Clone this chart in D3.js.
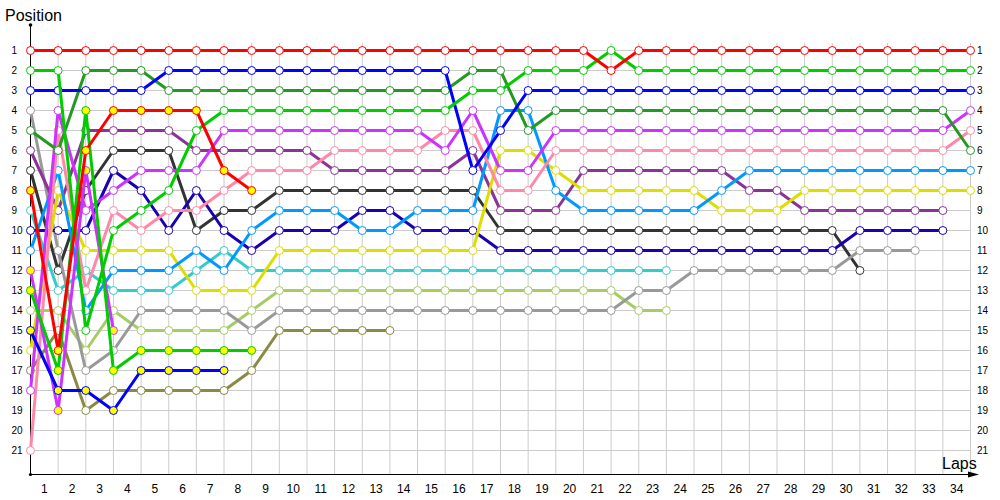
<!DOCTYPE html>
<html><head><meta charset="utf-8">
<script src="https://cdn.jsdelivr.net/npm/d3@7"></script>
<style>body{margin:0;background:#fff}svg{display:block}</style>
</head><body><svg id="c" width="1000" height="500"></svg>
<script>
// tick labels
const lapLabels = ["1","2","3","4","5","6","7","8","9","10","11","12","13","14","15","16","17","18","19","20","21","22","23","24","25","26","27","28","29","30","31","32","33","34"];
const positionLabels = ["1","2","3","4","5","6","7","8","9","10","11","12","13","14","15","16","17","18","19","20","21"];

// positions per lap (index 0 = start grid)
const red      = [1,1,1,1,1,1,1,1,1,1, 1,1,1,1,1,1,1,1,1,1, 1,2,1,1,1,1,1,1,1,1, 1,1,1,1,1];
const green    = [2,2,15,10,9,8,5,4,4,4, 4,4,4,4,4,4,3,3,2,2, 2,1,2,2,2,2,2,2,2,2, 2,2,2,2,2];
const blue     = [3,3,3,3,3,2,2,2,2,2, 2,2,2,2,2,2,7,5,3,3, 3,3,3,3,3,3,3,3,3,3, 3,3,3,3,3];
const dkgreen  = [5,6,2,2,2,3,3,3,3,3, 3,3,3,3,3,3,2,2,5,4, 4,4,4,4,4,4,4,4,4,4, 4,4,4,4,6];
const magenta  = [18,4,9,8,7,7,7,5,5,5, 5,5,5,5,5,6,4,7,7,5, 5,5,5,5,5,5,5,5,5,5, 5,5,5,5,4];
const pink     = [21,5,13,9,10,9,9,8,7,7, 7,6,6,6,6,5,5,8,8,6, 6,6,6,6,6,6,6,6,6,6, 6,6,6,6,5];
const ltblue   = [11,7,14,12,12,12,11,12,10,9, 9,9,10,10,9,9,9,4,4,8, 9,9,9,9,9,8,7,7,7,7, 7,7,7,7,7];
const yellow   = [16,8,11,11,11,11,13,13,13,11, 11,11,11,11,11,11,11,6,6,7, 8,8,8,8,8,9,9,9,8,8, 8,8,8,8,8];
const purple   = [6,9,5,5,5,5,6,6,6,6, 6,7,7,7,7,7,6,9,9,9, 7,7,7,7,7,7,8,8,9,9, 9,9,9,9];
const navy     = [10,10,10,7,8,10,8,10,11,10, 10,10,9,9,10,10,10,11,11,11, 11,11,11,11,11,11,11,11,11,11, 10,10,10,10];
const gray     = [4,11,17,16,14,14,14,14,15,14, 14,14,14,14,14,14,14,14,14,14, 14,14,13,13,12,12,12,12,12,12, 11,11,11];
const black    = [7,12,8,6,6,6,10,9,9,8, 8,8,8,8,8,8,8,10,10,10, 10,10,10,10,10,10,10,10,10,10, 12];
const teal     = [9,13,12,13,13,13,12,11,12,12, 12,12,12,12,12,12,12,12,12,12, 12,12,12,12];
const ltgreen  = [14,14,16,14,15,15,15,15,14,13, 13,13,13,13,13,13,13,13,13,13, 13,13,14,14];
const olive    = [17,15,19,18,18,18,18,18,17,15, 15,15,15,15];
const red2     = [8,16,6,4,4,4,4,7,8];
const greenB   = [13,17,4,17,16,16,16,16,16];
const blue2    = [15,18,18,19,17,17,17,17];
const magenta2 = [12,19,7,15];

const series = [
  {data: olive,    color: "#8a8a44", fill: "#ffffff"},
  {data: ltgreen,  color: "#a6cc66", fill: "#ffffff"},
  {data: teal,     color: "#33cccc", fill: "#ffffff"},
  {data: black,    color: "#333333", fill: "#ffffff"},
  {data: gray,     color: "#999999", fill: "#ffffff"},
  {data: navy,     color: "#1a00b3", fill: "#ffffff"},
  {data: purple,   color: "#8c3399", fill: "#ffffff"},
  {data: yellow,   color: "#dddd00", fill: "#ffffff"},
  {data: ltblue,   color: "#0099ff", fill: "#ffffff"},
  {data: pink,     color: "#ff88aa", fill: "#ffffff"},
  {data: magenta,  color: "#cc33ff", fill: "#ffffff"},
  {data: dkgreen,  color: "#229922", fill: "#ffffff"},
  {data: blue,     color: "#0000ff", fill: "#ffffff"},
  {data: green,    color: "#00cc00", fill: "#ffffff"},
  {data: red,      color: "#ff0000", fill: "#ffffff"},
  {data: magenta2, color: "#cc33ff", fill: "#ffff00"},
  {data: blue2,    color: "#0000ff", fill: "#ffff00"},
  {data: greenB,   color: "#00cc00", fill: "#ffff00"},
  {data: red2,     color: "#ff0000", fill: "#ffff00"}
];

const svg = d3.select("#c");
const x = d3.scaleLinear().domain([0, 34]).range([30.5, 970.5]);
const y = d3.scaleLinear().domain([1, 21]).range([50.5, 450.5]);
const font = "'Liberation Sans', Arial, sans-serif";

// grid
const grid = svg.append("g").attr("stroke", "#cccccc").attr("stroke-width", 1);
grid.selectAll("line.h").data(positionLabels).join("line")
  .attr("x1", x(0)).attr("x2", x(34))
  .attr("y1", d => y(+d)).attr("y2", d => y(+d));
grid.selectAll("line.v").data(d3.range(1, 35)).join("line")
  .attr("x1", d => x(d)).attr("x2", d => x(d))
  .attr("y1", 43).attr("y2", 474);

// position labels left & right
svg.append("g").selectAll("text").data(positionLabels).join("text")
  .attr("x", 11.5).attr("y", d => y(+d) + 3.5)
  .attr("text-anchor", "start").attr("font-family", font).attr("font-size", 10)
  .attr("fill", "#000").text(d => d);
svg.append("g").selectAll("text").data(positionLabels).join("text")
  .attr("x", 977).attr("y", d => y(+d) + 3.5)
  .attr("text-anchor", "start").attr("font-family", font).attr("font-size", 10)
  .attr("fill", "#000").text(d => d);

// lap labels (centered in each lap band)
svg.append("g").selectAll("text").data(lapLabels).join("text")
  .attr("x", (d, i) => x(i + 0.5)).attr("y", 493)
  .attr("text-anchor", "middle").attr("font-family", font).attr("font-size", 12)
  .attr("fill", "#000").text(d => d);

// axes
svg.append("line").attr("x1", 30.5).attr("x2", 30.5).attr("y1", 25).attr("y2", 474.5)
  .attr("stroke", "#000").attr("stroke-width", 1);
svg.append("circle").attr("cx", 30.5).attr("cy", 25).attr("r", 1.8).attr("fill", "#000");
svg.append("circle").attr("cx", 30.5).attr("cy", 474.5).attr("r", 1.6).attr("fill", "#000");
svg.append("line").attr("x1", 30.5).attr("x2", 972).attr("y1", 474.5).attr("y2", 474.5)
  .attr("stroke", "#000").attr("stroke-width", 1);
svg.append("path").attr("d", "M968,471.5 L979,474.5 L968,477.5 Z").attr("fill", "#000");

svg.append("text").attr("x", 5).attr("y", 21).attr("font-family", font).attr("font-size", 16)
  .attr("fill", "#000").text("Position");
svg.append("text").attr("x", 942).attr("y", 469).attr("font-family", font).attr("font-size", 16)
  .attr("fill", "#000").text("Laps");

// series
const line = d3.line().x((d, i) => x(i)).y(d => y(d));
const sg = svg.append("g");
series.forEach(s => {
  const g = sg.append("g");
  g.append("path").attr("d", line(s.data)).attr("fill", "none")
    .attr("stroke", s.color).attr("stroke-width", 3).attr("stroke-linejoin", "round");
  g.selectAll("circle").data(s.data).join("circle")
    .attr("cx", (d, i) => x(i)).attr("cy", d => y(d)).attr("r", 4)
    .attr("fill", s.fill).attr("stroke", s.color).attr("stroke-width", 1);
});
</script>
</body></html>
